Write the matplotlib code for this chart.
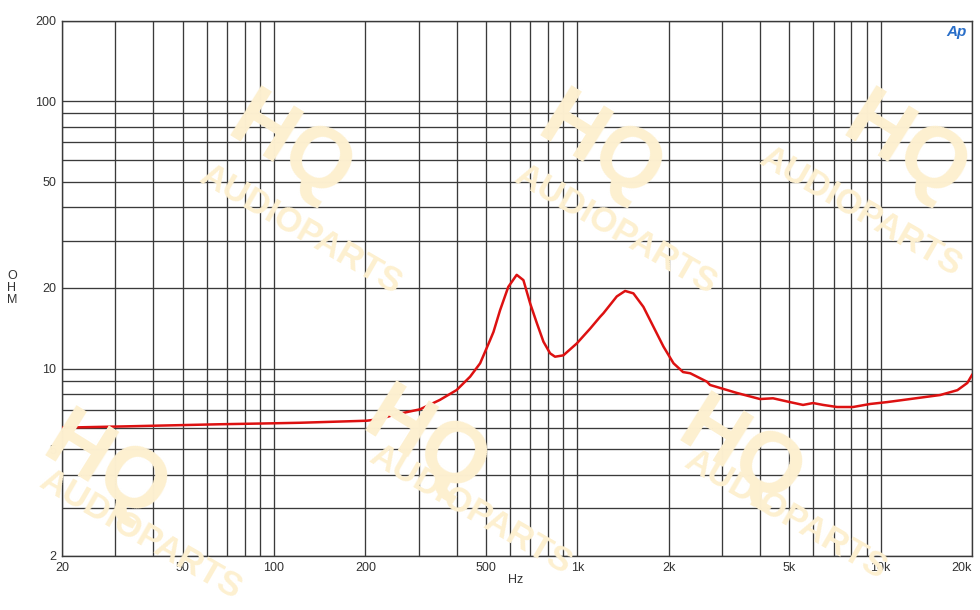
import matplotlib
matplotlib.use("Agg")
import matplotlib.pyplot as plt
from matplotlib.ticker import FixedLocator, FixedFormatter, NullFormatter

# ---- data ----
freq_hz = [20, 32.8, 66.4, 99, 122, 202, 223, 247, 303, 352, 400, 443, 478, 502,
           516, 529, 556, 592, 631, 664, 699, 735, 773, 813, 844, 899, 995, 1102,
           1188, 1219, 1349, 1437, 1530, 1651, 1783, 1923, 2075, 2231, 2356, 2674,
           2738, 3362, 4000, 4416, 5023, 5546, 5985, 6460, 7180, 8110, 9230, 10500,
           12500, 15700, 17900, 19300, 20000]
impedance_ohm = [6.01, 6.08, 6.19, 6.24, 6.27, 6.38, 6.47, 6.7, 7.04, 7.63, 8.31, 9.32,
                 10.46, 11.9, 12.8, 13.7, 16.5, 20.2, 22.4, 21.4, 17.5, 14.8, 12.6, 11.4,
                 11.07, 11.2, 12.4, 14.1, 15.6, 16.1, 18.6, 19.5, 19.1, 17.0, 14.3, 12.07,
                 10.46, 9.7, 9.6, 8.93, 8.68, 8.1, 7.69, 7.74, 7.49, 7.31, 7.43, 7.31,
                 7.18, 7.18, 7.37, 7.49, 7.69, 7.96, 8.3, 8.83, 9.46]

x_ticks = [20, 50, 100, 200, 500, 1000, 2000, 5000, 10000, 20000]
x_tick_labels = ["20", "50", "100", "200", "500", "1k", "2k", "5k", "10k", "20k"]
y_ticks = [2, 5, 10, 20, 50, 100, 200]
y_tick_labels = ["2", "5", "10", "20", "50", "100", "200"]

x_grid = [m * d for d in (10, 100, 1000, 10000) for m in range(1, 10)
          if 20 <= m * d <= 20000]
y_grid = [m * d for d in (1, 10, 100) for m in range(1, 10) if 2 <= m * d <= 200]

plt.rcParams['font.family'] = ['Liberation Sans', 'DejaVu Sans']

fig = plt.figure(figsize=(9.8, 6.1), dpi=100)
fig.patch.set_facecolor('white')

# faint watermark (background)
wm_color = '#fdf0d0'
hq_pos = [(290, 150), (600, 150), (905, 150), (105, 470), (425, 445), (740, 455)]
ap_pos = [(300, 230), (615, 230), (860, 212), (140, 535), (470, 510), (785, 515)]
for (px, py) in hq_pos:
    fig.text(px / 980, 1 - py / 610, "HQ", fontsize=62, fontweight='bold',
             color=wm_color, rotation=-32, ha='center', va='center', zorder=0)
for (px, py) in ap_pos:
    fig.text(px / 980, 1 - py / 610, "AUDIOPARTS", fontsize=25, fontweight='bold',
             color=wm_color, rotation=-30, ha='center', va='center', zorder=0)

ax = fig.add_axes([62 / 980, 1 - 555.5 / 610, 910 / 980, (555.5 - 20.5) / 610])
ax.set_facecolor('none')
ax.set_xscale('log')
ax.set_yscale('log')
ax.set_xlim(20, 20000)
ax.set_ylim(2, 200)

grid_c = '#3a3a3a'
for gx in x_grid:
    ax.axvline(gx, color=grid_c, lw=0.95, zorder=1)
for gy in y_grid:
    ax.axhline(gy, color=grid_c, lw=0.95, zorder=1)

ax.plot(freq_hz, impedance_ohm, color='#dd1111', lw=1.8, zorder=3,
        solid_joinstyle='round')

ax.xaxis.set_major_locator(FixedLocator(x_ticks))
ax.xaxis.set_major_formatter(FixedFormatter(x_tick_labels))
ax.xaxis.set_minor_formatter(NullFormatter())
ax.yaxis.set_major_locator(FixedLocator(y_ticks))
ax.yaxis.set_major_formatter(FixedFormatter(y_tick_labels))
ax.yaxis.set_minor_formatter(NullFormatter())
ax.tick_params(which='both', length=0, labelsize=9, colors='#333333')
ax.tick_params(axis='x', pad=5)
ax.tick_params(axis='y', pad=4)
for s in ax.spines.values():
    s.set_color(grid_c)
    s.set_linewidth(1.0)

fig.canvas.draw()
xlabels = ax.get_xticklabels()
xlabels[-1].set_horizontalalignment('right')

fig.text(516 / 980, 1 - 580 / 610, "Hz", fontsize=9, color='#333333',
         ha='center', va='center')
for i, ch in enumerate("OHM"):
    fig.text(12 / 980, 1 - (276 + 12 * i) / 610, ch, fontsize=9, color='#333333',
             ha='center', va='center')

# AP logo
fig.text(956 / 980, 1 - 32 / 610, "Ap", fontsize=11, fontstyle='italic',
         color='#2a6fc9', ha='center', va='center', fontweight='bold')

fig.savefig("out.png", dpi=100, facecolor='white')
